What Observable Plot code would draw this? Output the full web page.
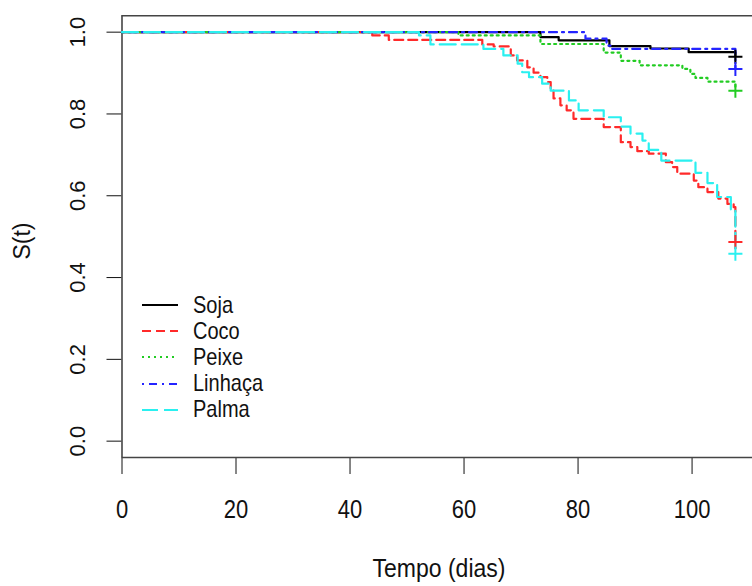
<!DOCTYPE html>
<html>
<head>
<meta charset="utf-8">
<script src="https://cdn.jsdelivr.net/npm/d3@7"></script>
<script src="https://cdn.jsdelivr.net/npm/@observablehq/plot@0.6"></script>
<style>
  html, body { margin: 0; padding: 0; background: #fff; overflow: hidden; }
  #wrap { position: relative; width: 752px; height: 586px; }
  .lbl { position: absolute; font-family: 'Liberation Sans', Arial, sans-serif; font-size: 23px; color: #111; white-space: nowrap; line-height: 1; }
  #legend { position: absolute; left: 140px; top: 292px; font-family: 'Liberation Sans', Arial, sans-serif; font-size: 20px; color: #111; }
  #legend .row { display: flex; align-items: center; height: 26.2px; }
  #legend .row span { display: inline-block; transform: scaleY(1.2); }
  #legend svg { width: 40px; height: 10px; margin-right: 13px; }
</style>
</head>
<body>
<div id="wrap"></div>
<script>
// Kaplan–Meier estimates (time in days, survival S(t))
const groups = ["Soja", "Coco", "Peixe", "Linhaça", "Palma"];

const sojaT = [0, 73.4, 76.6, 85.5, 92.7, 99.4, 107.6];
const sojaS = [1, 0.988, 0.980, 0.966, 0.960, 0.951, 0.940];

const cocoT = [0, 43.9, 46.8, 63.2, 65.2, 68.2, 69.3, 71.1, 72.2, 73.4, 74.6, 75.2, 75.7, 76.9, 78.0, 79.2, 84.5, 87.5, 89.2, 90.4, 92.4, 95.4, 96.5, 97.4, 100.3, 101.1, 102.7, 104.6, 106.2, 107.3, 107.6];
const cocoS = [1, 0.992, 0.981, 0.970, 0.965, 0.943, 0.931, 0.914, 0.901, 0.890, 0.878, 0.857, 0.838, 0.821, 0.809, 0.788, 0.768, 0.731, 0.719, 0.709, 0.703, 0.682, 0.670, 0.654, 0.637, 0.621, 0.609, 0.593, 0.580, 0.572, 0.487];

const peixeT = [0, 59.0, 73.4, 84.5, 87.5, 90.8, 98.3, 99.7, 100.6, 102.7, 107.6];
const peixeS = [1, 0.992, 0.971, 0.950, 0.930, 0.919, 0.910, 0.898, 0.888, 0.879, 0.857];

const linhacaT = [0, 81.3, 85.0, 85.8, 107.6];
const linhacaS = [1, 0.984, 0.967, 0.959, 0.910];

const palmaT = [0, 52.1, 54.1, 63.4, 66.9, 69.4, 70.2, 71.4, 73.7, 75.2, 78.4, 80.1, 84.5, 87.5, 89.2, 91.3, 92.4, 94.6, 100.6, 102.7, 104.4, 106.8, 107.6];
const palmaS = [1, 0.992, 0.970, 0.959, 0.943, 0.923, 0.902, 0.890, 0.874, 0.857, 0.833, 0.809, 0.792, 0.769, 0.752, 0.735, 0.712, 0.686, 0.656, 0.631, 0.597, 0.564, 0.458];

const xTicks = [0, 20, 40, 60, 80, 100];
const yTicks = [0, 0.2, 0.4, 0.6, 0.8, 1.0];

// styles (R default palette & line types 1–5)
const colors = ["#000000", "#ff2a2a", "#22cc22", "#2424ff", "#2af0f0"];
const dashes = [null, "9,5", "2,4", "2,5,8,5", "16,6"];

const seriesT = [sojaT, cocoT, peixeT, linhacaT, palmaT];
const seriesS = [sojaS, cocoS, peixeS, linhacaS, palmaS];

const rows = groups.flatMap((g, k) => seriesT[k].map((t, i) => ({grupo: g, k, t, s: seriesS[k][i]})));
const censored = groups.map((g, k) => ({grupo: g, k, t: seriesT[k].at(-1), s: seriesS[k].at(-1)}));

const font = "'Liberation Sans', Arial, sans-serif";

const marks = [
  Plot.ruleY([1.04], {stroke: "#444", strokeWidth: 1.6}),
  Plot.ruleY([-0.04], {stroke: "#444", strokeWidth: 1.6}),
  Plot.ruleX([0], {stroke: "#444", strokeWidth: 1.6}),
];
groups.forEach((g, k) => {
  marks.push(Plot.line(rows.filter(d => d.k === k), {
    x: "t", y: "s", curve: "step-after",
    stroke: colors[k], strokeWidth: 2.2,
    strokeDasharray: dashes[k] ?? undefined
  }));
});
groups.forEach((g, k) => {
  marks.push(Plot.dot(censored.filter(d => d.k === k), {
    x: "t", y: "s", symbol: "plus", r: 4.6, stroke: colors[k], strokeWidth: 2
  }));
});

const chart = Plot.plot({
  width: 752,
  height: 586,
  marginLeft: 121.5,
  marginRight: 0,
  marginTop: 15.3,
  marginBottom: 129,
  style: {fontFamily: font, fontSize: "22px", color: "#111", background: "#fff"},
  x: {domain: [0, 110.6], ticks: xTicks, tickSize: 17, tickPadding: 26, label: null, tickFormat: d => String(d)},
  y: {domain: [-0.04, 1.04], ticks: yTicks, tickSize: 15, tickPadding: 22, tickRotate: -90, label: null, tickFormat: d3.format(".1f")},
  marks
});
const wrap = document.getElementById("wrap");
wrap.appendChild(chart);

// the reference's upright text is drawn taller than wide: stretch it vertically about its centre
const svg = chart.tagName.toLowerCase() === "svg" ? chart : chart.querySelector("svg");
const stretch = 1.2;
svg.querySelectorAll("text").forEach(t => {
  const tr = t.getAttribute("transform") || "";
  if (tr.includes("rotate")) return;
  const r = t.getBoundingClientRect();
  const p = t.parentNode;
  const m = p.getScreenCTM().inverse();
  const pt = svg.createSVGPoint();
  pt.x = r.left + r.width / 2; pt.y = r.top + r.height / 2;
  const c = pt.matrixTransform(m);
  const g = document.createElementNS("http://www.w3.org/2000/svg", "g");
  g.setAttribute("transform", `translate(${c.x},${c.y}) scale(1,${stretch}) translate(${-c.x},${-c.y})`);
  p.insertBefore(g, t);
  g.appendChild(t);
});

// axis titles
const yl = document.createElement("div");
yl.className = "lbl";
yl.textContent = "S(t)";
yl.style.left = "22px"; yl.style.top = "241px";
yl.style.transform = "translate(-50%, -50%) rotate(-90deg)";
wrap.appendChild(yl);

const xl = document.createElement("div");
xl.className = "lbl";
xl.textContent = "Tempo (dias)";
xl.style.left = "439px"; xl.style.top = "569px";
xl.style.transform = "translate(-50%, -50%) scaleY(1.12)";
wrap.appendChild(xl);

// legend
const legend = document.createElement("div");
legend.id = "legend";
groups.forEach((g, k) => {
  const row = document.createElement("div");
  row.className = "row";
  row.innerHTML = `<svg viewBox="0 0 40 10"><line x1="2" x2="38" y1="5" y2="5" stroke="${colors[k]}" stroke-width="2" ${dashes[k] ? `stroke-dasharray="${dashes[k]}"` : ""}/></svg><span>${g}</span>`;
  legend.appendChild(row);
});
wrap.appendChild(legend);
</script>
</body>
</html>
